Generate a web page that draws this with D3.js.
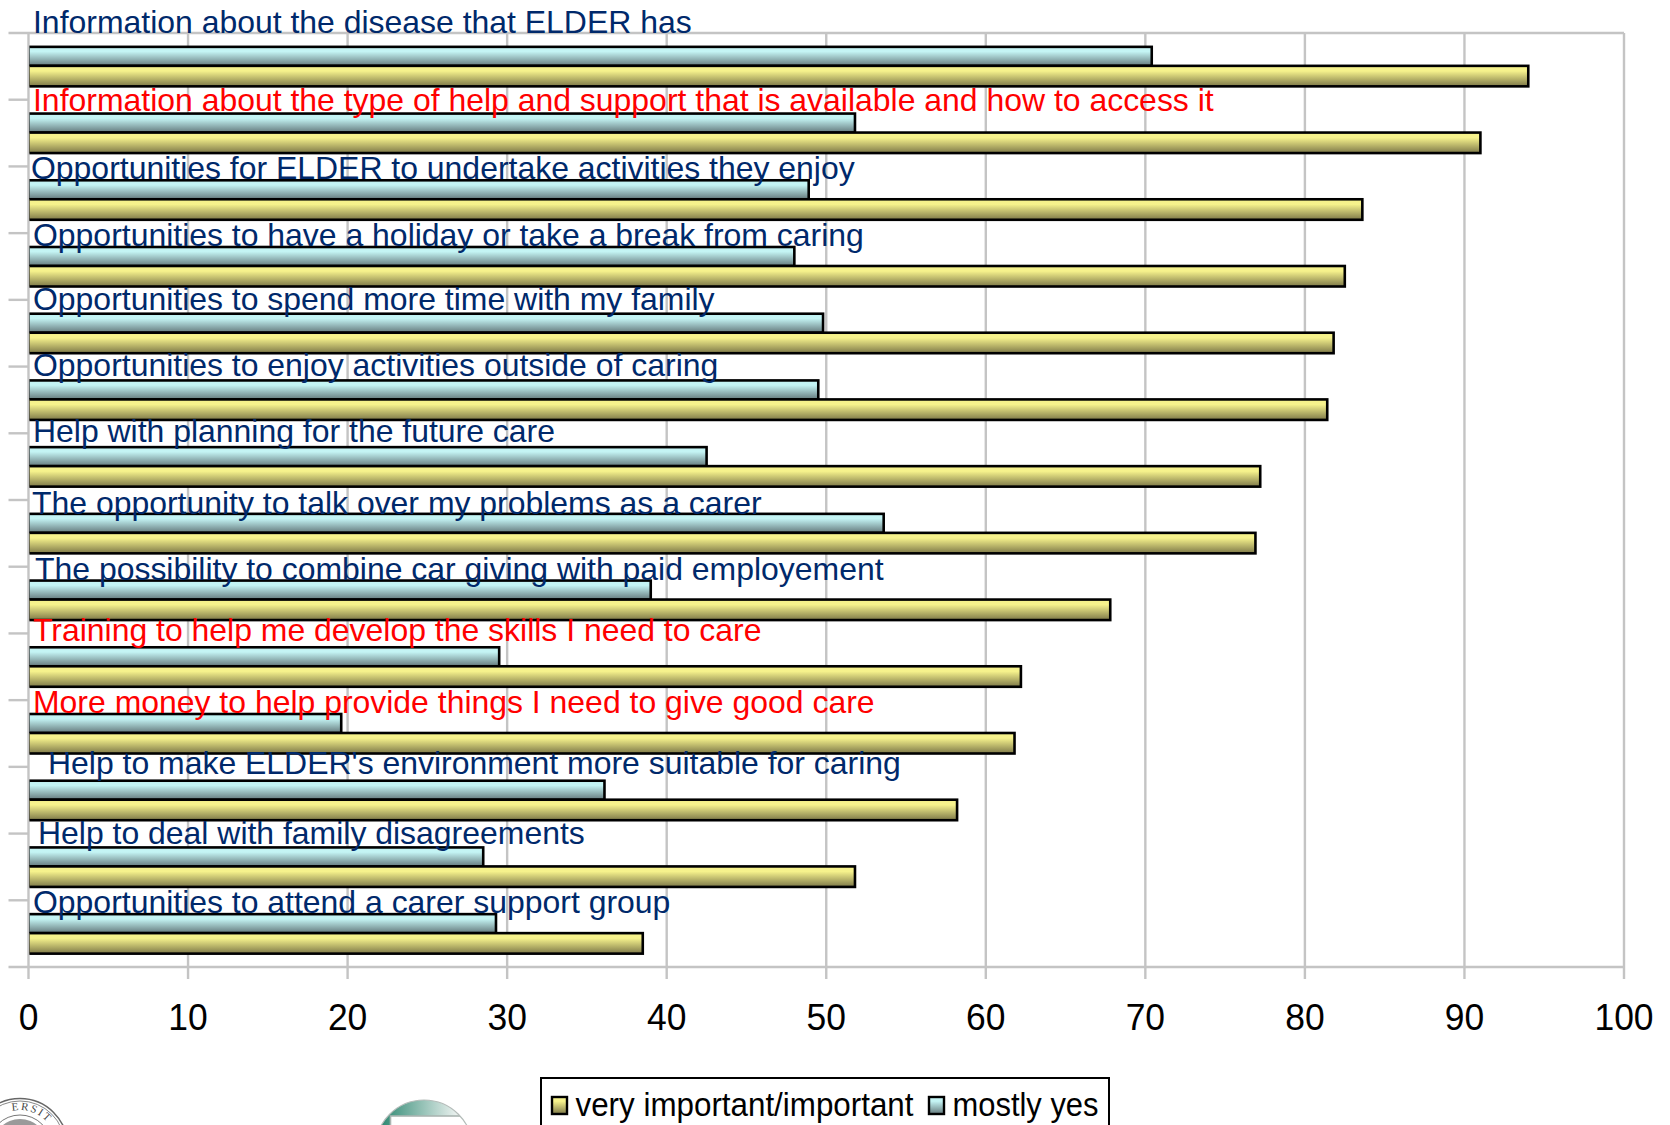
<!DOCTYPE html>
<html><head><meta charset="utf-8">
<script src="https://cdn.jsdelivr.net/npm/d3@7/dist/d3.min.js"></script>
<style>html,body{margin:0;background:#fff}svg{display:block}text{font-family:"Liberation Sans",Arial,sans-serif}</style>
</head><body><svg id="c" width="1670" height="1125"></svg>
<script>
const categories = [
  "Information about the disease that ELDER has",
  "Information about the type of help and support that is available and how to access it",
  "Opportunities for ELDER to undertake activities they enjoy",
  "Opportunities to have a holiday or take a break from caring",
  "Opportunities to spend more time with my family",
  "Opportunities to enjoy activities outside of caring",
  "Help with planning for the future care",
  "The opportunity to talk over my problems as a carer",
  "The possibility to combine car giving with paid employement",
  "Training to help me develop the skills I need to care",
  "More money to help provide things I need to give good care",
  "Help to make ELDER's environment more suitable for caring",
  "Help to deal with family disagreements",
  "Opportunities to attend a carer support group"
];
const important = [94, 91, 83.6, 82.5, 81.8, 81.4, 77.2, 76.9, 67.8, 62.2, 61.8, 58.2, 51.8, 38.5];
const mostlyYes = [70.4, 51.8, 48.9, 48, 49.8, 49.5, 42.5, 53.6, 39, 29.5, 19.6, 36.1, 28.5, 29.3];
const highlighted = [1, 9, 10];
const xTicks = d3.range(0, 101, 10);
const legendNames = ["very important/important", "mostly yes"];
// hand placement of each row's caption: left edge and baseline
const captionX = [33, 33, 31, 33, 33, 33, 33, 32, 35, 33, 33, 48, 38, 33];
const captionY = [33, 111, 179, 246, 310, 376, 442, 514, 580, 641, 713, 774, 844, 913];

const svg = d3.select("#c");
const m = {l: 28.5, r: 1624, t: 33, b: 967};
const x = d3.scaleLinear().domain([0, 100]).range([m.l, m.r]);
const band = d3.scaleBand().domain(d3.range(categories.length)).range([m.t, m.b]);

const defs = svg.append("defs");
function grad(id, top, bottom) {
  const g = defs.append("linearGradient").attr("id", id).attr("x1", 0).attr("x2", 0).attr("y1", 0).attr("y2", 1);
  g.append("stop").attr("offset", "0%").attr("stop-color", top);
  g.append("stop").attr("offset", "25%").attr("stop-color", top);
  g.append("stop").attr("offset", "100%").attr("stop-color", bottom);
}
grad("gy", "#f6f28c", "#7d7848");
grad("gc", "#c4f4f4", "#64797c");
const sweep = defs.append("linearGradient").attr("id", "sweep").attr("x1", 0).attr("x2", 1).attr("y1", 0).attr("y2", 0);
sweep.append("stop").attr("offset", "0%").attr("stop-color", "#1f8068");
sweep.append("stop").attr("offset", "85%").attr("stop-color", "#eef3f1");
// bars start just right of the zero line, with no left edge of their own
defs.append("clipPath").attr("id", "plotClip").append("rect")
  .attr("x", 29.4).attr("y", 0).attr("width", 1640).attr("height", 1125);
defs.append("clipPath").attr("id", "badgeClip").append("circle")
  .attr("cx", 424).attr("cy", 1148.6).attr("r", 48.6);

const grey = "#c4c4c4";
const grid = svg.append("g").attr("stroke", grey).attr("stroke-width", 2.4).attr("fill", "none");
grid.selectAll("line.v").data(xTicks).join("line").attr("class", "v")
  .attr("x1", d => x(d)).attr("x2", d => x(d)).attr("y1", m.t).attr("y2", m.b + 12);
grid.selectAll("line.h").data(d3.range(categories.length + 1)).join("line").attr("class", "h")
  .attr("x1", m.l - 20).attr("x2", d => (d === 0 || d === categories.length) ? m.r : m.l)
  .attr("y1", d => m.t + d * band.step()).attr("y2", d => m.t + d * band.step());

const cyanH = 19, yellowH = 20.5, split = -0.5;
const bars = svg.append("g").attr("stroke", "#000").attr("stroke-width", 2.6).attr("clip-path", "url(#plotClip)");
const mid = i => band(i) + band.bandwidth() / 2 + split;
bars.selectAll("rect.c").data(mostlyYes).join("rect").attr("class", "c")
  .attr("x", m.l).attr("width", d => x(d) - m.l)
  .attr("y", (d, i) => mid(i) - cyanH).attr("height", cyanH).attr("fill", "url(#gc)");
bars.selectAll("rect.y").data(important).join("rect").attr("class", "y")
  .attr("x", m.l).attr("width", d => x(d) - m.l)
  .attr("y", (d, i) => mid(i)).attr("height", yellowH).attr("fill", "url(#gy)");

svg.append("g").selectAll("text").data(categories).join("text")
  .attr("x", (d, i) => captionX[i]).attr("y", (d, i) => captionY[i])
  .attr("font-size", 31.95)
  .attr("fill", (d, i) => highlighted.includes(i) ? "#ff0000" : "#00296b")
  .text(d => d);

svg.append("g").selectAll("text").data(xTicks).join("text")
  .attr("transform", d => `translate(${x(d)},1030) scale(0.985,1)`).attr("text-anchor", "middle")
  .attr("font-size", 36).attr("fill", "#000").text(d => d);

// legend box runs off the bottom of the page
const lg = svg.append("g");
lg.append("rect").attr("x", 541).attr("y", 1078).attr("width", 568).attr("height", 70)
  .attr("fill", "#fff").attr("stroke", "#000").attr("stroke-width", 2);
const legendX = [552, 929];
const legendW = [338, 146];
legendNames.forEach((n, i) => {
  lg.append("rect").attr("x", legendX[i]).attr("y", 1097).attr("width", 15).attr("height", 17)
    .attr("fill", `url(#${i ? "gc" : "gy"})`).attr("stroke", "#000").attr("stroke-width", 2.4);
  lg.append("text").attr("x", legendX[i] + 23.5).attr("y", 1116).attr("font-size", 33).attr("fill", "#000")
    .attr("textLength", legendW[i]).attr("lengthAdjust", "spacingAndGlyphs").text(n);
});

// institutional marks, cut off by the page edge
const seal = svg.append("g").attr("transform", "translate(20,1146)").attr("fill", "none");
seal.append("circle").attr("r", 47.5).attr("stroke", "#666").attr("stroke-width", 1.5);
seal.append("circle").attr("r", 45).attr("stroke", "#888").attr("stroke-width", 1);
seal.append("circle").attr("r", 31).attr("stroke", "#777").attr("stroke-width", 1);
seal.append("circle").attr("r", 27).attr("fill", "#9a9a9a");
const sealPath = d3.path();
sealPath.arc(0, 0, 36, -Math.PI / 2 - 0.22, -Math.PI / 2 + 0.95);
seal.append("path").attr("id", "sealArc").attr("d", sealPath.toString());
seal.append("text").attr("font-size", 11).attr("fill", "#444").style("font-family", "Liberation Serif")
  .append("textPath").attr("href", "#sealArc").attr("letter-spacing", 1.8).text("ERSIT");

const badge = svg.append("g").attr("clip-path", "url(#badgeClip)");
badge.append("rect").attr("x", 375).attr("y", 1099).attr("width", 98).attr("height", 30).attr("fill", "url(#sweep)");
badge.append("rect").attr("x", 390.5).attr("y", 1116).attr("width", 90).attr("height", 20)
  .attr("fill", "#fff").attr("stroke", "#aab5b1").attr("stroke-width", 1.6);
svg.append("circle").attr("cx", 424).attr("cy", 1148.6).attr("r", 48.6)
  .attr("fill", "none").attr("stroke", "#b4bcb9").attr("stroke-width", 1.2);
</script></body></html>
